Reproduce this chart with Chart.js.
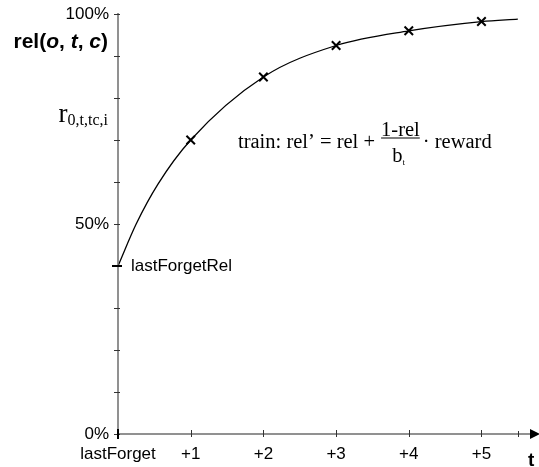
<!DOCTYPE html>
<html>
<head>
<meta charset="utf-8">
<script src="https://cdn.jsdelivr.net/npm/chart.js@4"></script>
<style>
  html, body { margin: 0; padding: 0; background: #fff; }
  #wrap { width: 539px; height: 467px; }
</style>
</head>
<body>
<div id="wrap"><canvas id="c"></canvas></div>
<script>
// データ
const steps = [0, 0.25, 0.55, 1, 2, 3, 4, 5, 5.5];
const relValues = [40, 50, 59.5, 70, 85, 92.5, 96, 98.2, 98.8];
const crossSize = [0, 0, 0, 6, 6, 6, 6, 6, 0];
const stepTicks = [0, 1, 2, 3, 4, 5];
const stepLabels = ["lastForget", "+1", "+2", "+3", "+4", "+5"];
const minorStepTicks = [1, 2, 3, 4, 5, 5.5];
const relTicks = [0, 10, 20, 30, 40, 50, 60, 70, 80, 90, 100];
const relTickLabels = { 0: "0%", 50: "50%", 100: "100%" };

const SANS = "'Liberation Sans', Arial, sans-serif";
const SERIF = "'Liberation Serif', 'Times New Roman', serif";
const AXIS = "#6e6e6e";

// 軸・注釈は自前で描く
const axesPlugin = {
  id: "axesPlugin",
  afterDraw(chart) {
    const ctx = chart.ctx, x = chart.scales.x, y = chart.scales.y;
    const x0 = x.getPixelForValue(0), y0 = y.getPixelForValue(0);
    const yTop = y.getPixelForValue(100);
    const right = chart.chartArea.right;
    ctx.save();

    // 軸線
    ctx.strokeStyle = AXIS; ctx.lineWidth = 1.5;
    ctx.beginPath();
    ctx.moveTo(x0, yTop - 1); ctx.lineTo(x0, y0);
    ctx.moveTo(x0, y0); ctx.lineTo(right - 4, y0);
    ctx.stroke();
    // 矢印
    ctx.fillStyle = "#000";
    ctx.beginPath();
    ctx.moveTo(right + 4, y0);
    ctx.lineTo(right - 6, y0 - 5);
    ctx.lineTo(right - 6, y0 + 5);
    ctx.closePath(); ctx.fill();

    // 目盛り
    ctx.strokeStyle = "#333"; ctx.lineWidth = 1;
    ctx.beginPath();
    relTicks.forEach(v => {
      const py = Math.round(y.getPixelForValue(v)) + 0.5;
      ctx.moveTo(x0 - 4, py); ctx.lineTo(x0 + 2, py);
    });
    minorStepTicks.forEach(v => {
      const px = Math.round(x.getPixelForValue(v)) + 0.5;
      const len = v % 1 ? 3 : 4;
      ctx.moveTo(px, y0 - len); ctx.lineTo(px, y0 + 3);
    });
    ctx.stroke();

    // 太い目盛り（原点・lastForgetRel）
    const yRel = y.getPixelForValue(relValues[0]);
    ctx.strokeStyle = "#000"; ctx.lineWidth = 2;
    ctx.beginPath();
    ctx.moveTo(x0 - 6, yRel); ctx.lineTo(x0 + 4, yRel);
    ctx.moveTo(x0, y0 - 5); ctx.lineTo(x0, y0 + 5);
    ctx.stroke();

    ctx.fillStyle = "#000";
    ctx.textBaseline = "alphabetic";

    // rel(o, t, c)
    const parts = [["rel(", false], ["o", true], [", ", false], ["t", true], [", ", false], ["c", true], [")", false]];
    const fontOf = it => (it ? "italic " : "") + "bold 21px " + SANS;
    let w = 0;
    parts.forEach(([s, it]) => { ctx.font = fontOf(it); w += ctx.measureText(s).width; });
    let px = x0 - 10 - w;
    parts.forEach(([s, it]) => { ctx.font = fontOf(it); ctx.fillText(s, px, 48); px += ctx.measureText(s).width; });

    // r_{0,t,tc,i}
    ctx.font = "27px " + SERIF;
    const rw = ctx.measureText("r").width;
    ctx.font = "16px " + SERIF;
    const sw = ctx.measureText("0,t,tc,i").width;
    px = x0 - 10 - rw - sw;
    ctx.font = "27px " + SERIF; ctx.fillText("r", px, 122);
    ctx.font = "16px " + SERIF; ctx.fillText("0,t,tc,i", px + rw, 125);

    // lastForgetRel
    ctx.font = "17px " + SANS;
    ctx.textBaseline = "middle";
    ctx.fillText("lastForgetRel", x0 + 13, yRel);
    ctx.textBaseline = "alphabetic";

    // 式
    ctx.font = "20.5px " + SERIF;
    const lead = "train: rel\u2019 = rel + ";
    ctx.fillText(lead, 238, 148);
    const fx = 238 + ctx.measureText(lead).width + 1;
    const num = "1-rel";
    const nw = ctx.measureText(num).width;
    ctx.fillText(num, fx, 136);
    ctx.fillRect(fx, 137.5, nw, 1);
    const bw = ctx.measureText("b").width;
    const bx = fx + (nw - bw) / 2 - 3;
    ctx.fillText("b", bx, 162);
    ctx.font = "9px " + SERIF;
    ctx.fillText("t", bx + bw, 165);
    ctx.font = "20.5px " + SERIF;
    ctx.fillText("\u00b7 reward", fx + nw + 3, 148);

    // t
    ctx.font = "bold 19px " + SANS;
    ctx.fillText("t", 528, 466);

    ctx.restore();
  }
};

new Chart(document.getElementById("c"), {
  type: "line",
  data: {
    datasets: [{
      data: steps.map((s, i) => ({ x: s, y: relValues[i] })),
      borderColor: "#000",
      borderWidth: 1.3,
      cubicInterpolationMode: "monotone",
      pointStyle: "crossRot",
      pointRadius: crossSize,
      pointBorderColor: "#000",
      pointBorderWidth: 2,
      fill: false
    }]
  },
  options: {
    responsive: true,
    maintainAspectRatio: false,
    animation: false,
    events: [],
    layout: { padding: { top: 14, right: 3, left: 0, bottom: 0 } },
    plugins: { legend: { display: false }, tooltip: { enabled: false } },
    scales: {
      x: {
        type: "linear", min: 0, max: 5.75,
        afterBuildTicks: s => { s.ticks = stepTicks.map(v => ({ value: v })); },
        afterFit: s => { s.height = 33; },
        grid: { display: false, drawTicks: false },
        border: { display: false },
        ticks: {
          autoSkip: false, maxRotation: 0, padding: 10, color: "#000",
          font: { family: SANS, size: 17 },
          callback: v => stepLabels[stepTicks.indexOf(v)] ?? ""
        }
      },
      y: {
        type: "linear", min: 0, max: 100,
        afterBuildTicks: s => { s.ticks = relTicks.map(v => ({ value: v })); },
        afterFit: s => { s.width = 118; s.paddingTop = 0; s.paddingBottom = 0; },
        grid: { display: false, drawTicks: false },
        border: { display: false },
        ticks: {
          autoSkip: false, padding: 9, color: "#000",
          font: { family: SANS, size: 17 },
          callback: v => relTickLabels[v] ?? ""
        }
      }
    }
  },
  plugins: [axesPlugin]
});
</script>
</body>
</html>
